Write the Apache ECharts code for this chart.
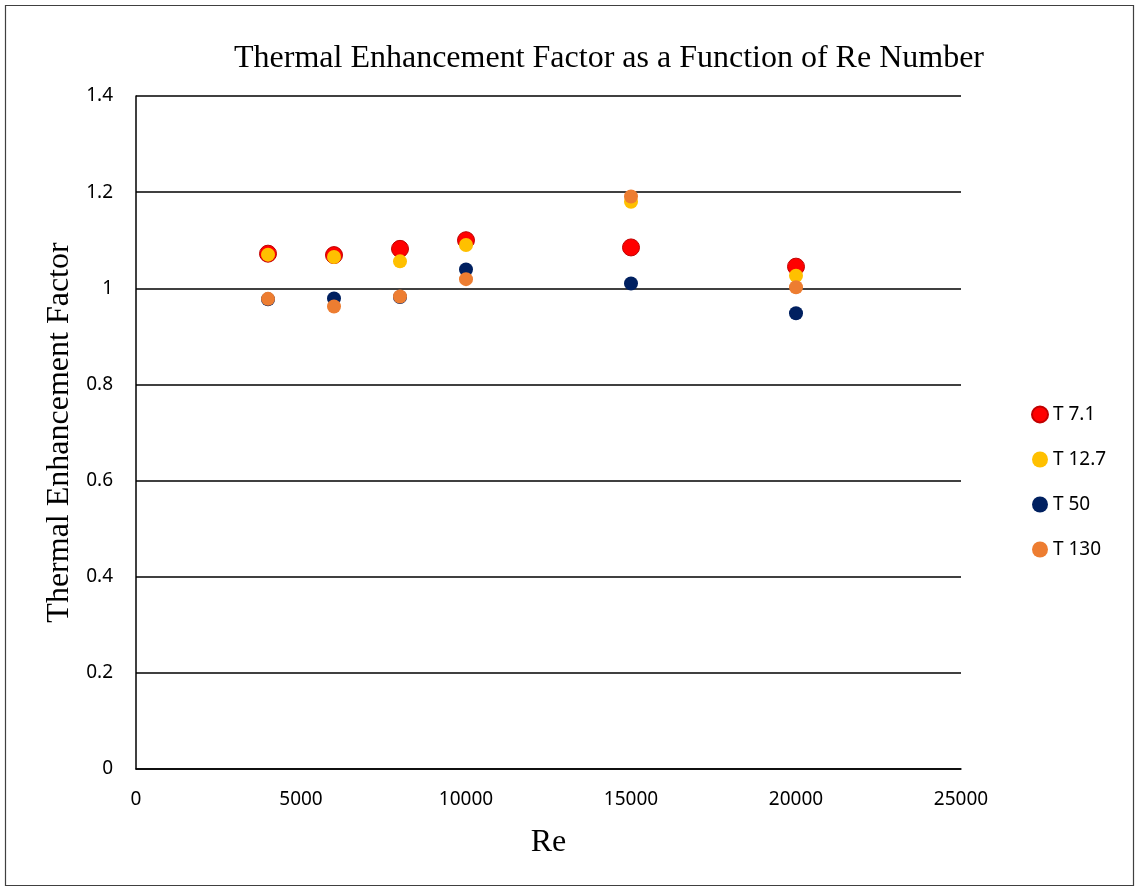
<!DOCTYPE html>
<html>
<head>
<meta charset="utf-8">
<script src="https://cdn.jsdelivr.net/npm/echarts@6/dist/echarts.min.js"></script>
<style>
  html, body { margin: 0; padding: 0; background: #fff; }
  #chart { width: 1139px; height: 891px; }
</style>
</head>
<body>
<div id="chart"></div>
<script>
// Reynolds numbers tested
const reValues = [4000, 6000, 8000, 10000, 15000, 20000];

// Thermal enhancement factor for each twist ratio
const t7_1  = [1.072, 1.069, 1.082, 1.100, 1.085, 1.045];
const t12_7 = [1.070, 1.065, 1.056, 1.090, 1.180, 1.026];
const t50   = [0.977, 0.979, 0.982, 1.039, 1.010, 0.948];
const t130  = [0.978, 0.962, 0.983, 1.019, 1.191, 1.002];

const seriesNames = ['T 7.1', 'T 12.7', 'T 50', 'T 130'];
const seriesColors = ['#FF0000', '#FFC000', '#002060', '#ED7D31'];
const seriesData = [t7_1, t12_7, t50, t130];

const yTicks = { min: 0, max: 1.4, interval: 0.2 };
const xTicks = { min: 0, max: 25000, interval: 5000 };

const chart = echarts.init(document.getElementById('chart'));

const series = seriesData.map((vals, i) => ({
  name: seriesNames[i],
  type: 'scatter',
  symbol: 'circle',
  symbolSize: i === 0 ? 17 : 14,
  itemStyle: {
    color: seriesColors[i],
    borderColor: i === 0 ? '#C00000' : seriesColors[i],
    borderWidth: i === 0 ? 1 : 0,
    opacity: 1
  },
  data: reValues.map((re, k) => [re, vals[k]])
}));

chart.setOption({
  animation: false,
  backgroundColor: '#fff',
  title: {
    text: 'Thermal Enhancement Factor as a Function of Re Number',
    left: 229,
    top: 38,
    textStyle: {
      fontFamily: 'Liberation Serif',
      fontWeight: 'normal',
      fontSize: 32,
      color: '#000'
    }
  },
  graphic: [{
    type: 'rect',
    shape: { x: 5.5, y: 5.5, width: 1128, height: 880 },
    style: { fill: 'none', stroke: '#404040', lineWidth: 1.2 },
    silent: true
  }],
  legend: {
    orient: 'vertical',
    left: 1026,
    top: 400,
    itemGap: 26,
    itemWidth: 16,
    itemHeight: 16,
    icon: 'circle',
    data: seriesNames,
    textStyle: {
      fontFamily: 'Noto Sans',
      fontSize: 19,
      color: '#000'
    }
  },
  grid: {
    left: 136,
    right: 178,
    top: 96,
    bottom: 122,
    containLabel: false
  },
  xAxis: {
    type: 'value',
    min: xTicks.min,
    max: xTicks.max,
    interval: xTicks.interval,
    name: 'Re',
    nameLocation: 'middle',
    nameGap: 58,
    nameTextStyle: {
      fontFamily: 'Liberation Serif',
      fontSize: 32,
      color: '#000'
    },
    axisLine: { show: true, lineStyle: { color: '#000', width: 1.5 } },
    axisTick: { show: false },
    splitLine: { show: false },
    axisLabel: {
      fontFamily: 'Noto Sans',
      fontSize: 19,
      color: '#000',
      margin: 21,
      formatter: v => String(v)
    }
  },
  yAxis: {
    type: 'value',
    min: yTicks.min,
    max: yTicks.max,
    interval: yTicks.interval,
    name: 'Thermal Enhancement Factor',
    nameLocation: 'middle',
    nameGap: 59,
    nameRotate: 90,
    nameTextStyle: {
      fontFamily: 'Liberation Serif',
      fontSize: 32,
      color: '#000'
    },
    axisLine: { show: true, lineStyle: { color: '#000', width: 1.5 } },
    axisTick: { show: false },
    splitLine: { show: true, lineStyle: { color: '#000', width: 1.5 } },
    axisLabel: {
      fontFamily: 'Noto Sans',
      fontSize: 19,
      color: '#000',
      margin: 23,
      formatter: v => String(Math.round(v * 10) / 10)
    }
  },
  series: series
});
</script>
</body>
</html>
